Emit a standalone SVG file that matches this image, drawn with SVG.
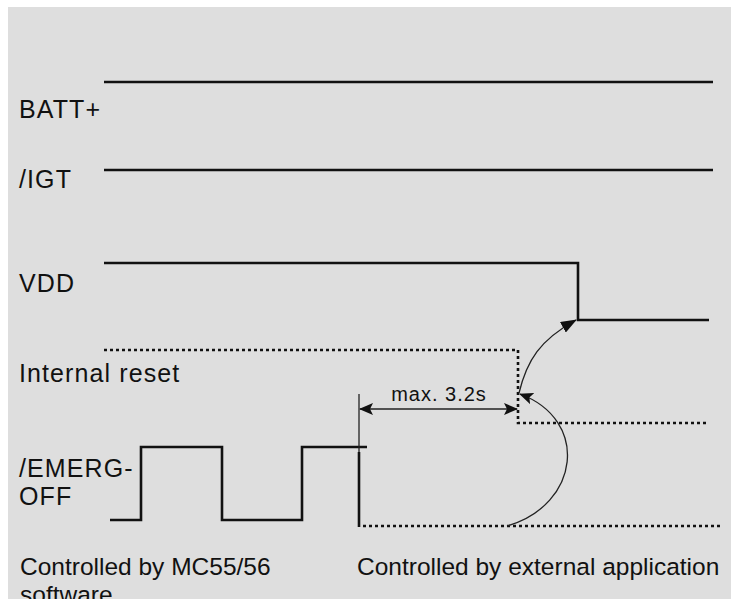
<svg xmlns="http://www.w3.org/2000/svg" width="733" height="605" viewBox="0 0 733 605">
<defs>
<style>
.lbl{font-family:"Liberation Sans",Arial,sans-serif;font-size:25px;letter-spacing:1.1px;fill:#111}
.note{font-family:"Liberation Sans",Arial,sans-serif;font-size:24.5px;fill:#111}
.dim{font-family:"Liberation Sans",Arial,sans-serif;font-size:20px;letter-spacing:1px;fill:#111}
.sig{fill:none;stroke:#111;stroke-width:2.6}
.dot{fill:none;stroke:#111;stroke-width:2.6;stroke-dasharray:3 3}
.thin{fill:none;stroke:#222;stroke-width:1.3}
</style>
<clipPath id="frame"><rect x="8" y="7" width="723" height="592"/></clipPath>
<marker id="barb" viewBox="0 0 14 12" refX="13" refY="6" markerWidth="14" markerHeight="12" markerUnits="userSpaceOnUse" orient="auto-start-reverse">
<path d="M0,0 L14,6 L0,12 L3,6 z" fill="#111"/>
</marker>
<marker id="solid" viewBox="0 0 16 12" refX="15" refY="6" markerWidth="16" markerHeight="12" markerUnits="userSpaceOnUse" orient="auto">
<path d="M0,0 L16,6 L0,12 z" fill="#111"/>
</marker>
</defs>
<g clip-path="url(#frame)">
<rect x="8" y="7" width="723" height="598" fill="#dedede"/>
<g id="batt">
<text class="lbl" x="19" y="118">BATT+</text>
<path class="sig" d="M104,82 H713"/>
</g>
<g id="igt">
<text class="lbl" x="19" y="188">/IGT</text>
<path class="sig" d="M104,170 H713"/>
</g>
<g id="vdd">
<text class="lbl" x="19" y="292">VDD</text>
<path class="sig" d="M104,263 H578 V320 H709"/>
</g>
<g id="reset">
<text class="lbl" x="19" y="382">Internal reset</text>
<path class="dot" d="M104,350 H518 V423 H708"/>
</g>
<g id="emerg">
<text class="lbl" x="19" y="477">/EMERG-</text>
<text class="lbl" x="19" y="505">OFF</text>
<path class="sig" d="M110,520 H141 V447 H222 V520 H302 V447 H367"/>
<path class="sig" d="M359,452 V527" stroke-width="3"/>
<path class="dot" d="M363,526 H722"/>
</g>
<g id="notes">
<text class="note" x="20" y="575">Controlled by MC55/56</text>
<text class="note" x="20" y="603">software</text>
<text class="note" x="357" y="575">Controlled by external application</text>
</g>
<g id="connectors">
<path class="thin" d="M359,394 V452"/>
<path class="thin" d="M360,409 H517" stroke="#444" stroke-width="1.5" marker-start="url(#barb)" marker-end="url(#barb)"/>
<text class="dim" x="439" y="401" text-anchor="middle">max. 3.2s</text>
<path class="thin" d="M507,526 C580,505 590,420 520,394" marker-end="url(#barb)"/>
<path class="thin" d="M519,393 C527,360 540,340 576,320" stroke-width="1.8" marker-end="url(#solid)"/>
</g>
</g>
</svg>
